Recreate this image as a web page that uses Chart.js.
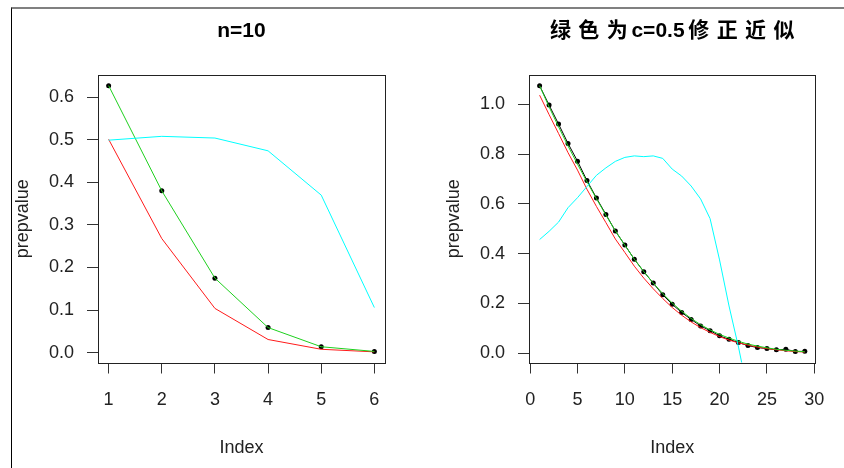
<!DOCTYPE html>
<html>
<head>
<meta charset="utf-8">
<script src="https://cdn.jsdelivr.net/npm/chart.js@4"></script>
<style>
  body { margin: 0; background: #fff; width: 844px; height: 468px; overflow: hidden; position: relative; }
  #frame { position: absolute; left: 11px; top: 7px; width: 833px; height: 461px;
           border-top: 2px solid #808080; border-left: 1px solid #000; box-sizing: border-box; }
  canvas { position: absolute; top: 0; }
  #left { left: 0; }
  #right { left: 422px; }
</style>
</head>
<body>
<div id="frame"></div>
<canvas id="left" width="422" height="468"></canvas>
<canvas id="right" width="422" height="468"></canvas>
<script>
// 왼쪽: n=10
const leftIndex = [1, 2, 3, 4, 5, 6];
const leftBlack = [0.627, 0.380, 0.175, 0.059, 0.014, 0.003];
const leftGreen = [0.627, 0.380, 0.175, 0.059, 0.014, 0.003];
const leftRed   = [0.501, 0.268, 0.104, 0.031, 0.008, 0.002];
const leftCyan  = [0.499, 0.508, 0.504, 0.474, 0.370, 0.106];
const leftXTicks = [1, 2, 3, 4, 5, 6];
const leftYTicks = [0, 0.1, 0.2, 0.3, 0.4, 0.5, 0.6];

// 오른쪽: 修正近似
const rightIndex = [1, 2, 3, 4, 5, 6, 7, 8, 9, 10, 11, 12, 13, 14, 15, 16, 17, 18, 19, 20,
                    21, 22, 23, 24, 25, 26, 27, 28, 29];
const rightBlack = [1.075, 0.997, 0.921, 0.843, 0.772, 0.694, 0.624, 0.558, 0.491, 0.435,
                    0.378, 0.328, 0.282, 0.235, 0.197, 0.164, 0.136, 0.110, 0.091, 0.070,
                    0.056, 0.043, 0.031, 0.023, 0.019, 0.014, 0.016, 0.007, 0.008];
const rightGreen = [1.075, 0.990, 0.910, 0.833, 0.760, 0.689, 0.621, 0.555, 0.492, 0.434,
                    0.378, 0.328, 0.282, 0.240, 0.202, 0.169, 0.140, 0.115, 0.094, 0.076,
                    0.061, 0.048, 0.037, 0.029, 0.022, 0.016, 0.012, 0.009, 0.006];
const rightRed   = [1.037, 0.959, 0.883, 0.806, 0.736, 0.659, 0.590, 0.525, 0.459, 0.405,
                    0.350, 0.302, 0.259, 0.220, 0.184, 0.153, 0.126, 0.103, 0.084, 0.067,
                    0.053, 0.042, 0.033, 0.025, 0.019, 0.014, 0.010, 0.007, 0.005];
const rightCyan  = [0.457, 0.490, 0.527, 0.585, 0.625, 0.670, 0.715, 0.745, 0.771, 0.787,
                    0.793, 0.790, 0.793, 0.783, 0.740, 0.712, 0.672, 0.620, 0.541, 0.375,
                    0.190, 0.025, -0.160];
const rightXTicks = [0, 5, 10, 15, 20, 25, 30];
const rightYTicks = [0, 0.2, 0.4, 0.6, 0.8, 1.0];

const FONT = "'Liberation Sans', Arial, sans-serif";

function pts(xs, ys) {
    return ys.map((y, i) => ({ x: xs[i], y: y }));
}

// 제목: 한자만 간격을 넓힘
const panelTitle = {
    id: 'panelTitle',
    afterDraw(chart, args, opts) {
        const ctx = chart.ctx;
        const a = chart.chartArea;
        ctx.save();
        ctx.font = "bold 21px 'Liberation Sans', 'Noto Sans CJK SC', sans-serif";
        ctx.fillStyle = '#000';
        ctx.textAlign = 'left';
        ctx.textBaseline = 'middle';
        const chars = Array.from(opts.text);
        const gap = c => (/[\u4e00-\u9fff]/.test(c) ? opts.spacing : 0);
        let total = 0;
        chars.forEach(c => { total += ctx.measureText(c).width + gap(c); });
        let x = (a.left + a.right) / 2 - total / 2;
        chars.forEach(c => {
            const g = gap(c);
            ctx.fillText(c, x + g / 2, 31);
            x += ctx.measureText(c).width + g;
        });
        ctx.restore();
    }
};

// 플롯 박스
const plotBox = {
    id: 'plotBox',
    afterDraw(chart) {
        const ctx = chart.ctx;
        const a = chart.chartArea;
        ctx.save();
        ctx.strokeStyle = '#222';
        ctx.lineWidth = 1;
        ctx.strokeRect(Math.round(a.left) + 0.5, Math.round(a.top) + 0.5,
                       Math.round(a.right - a.left), Math.round(a.bottom - a.top));
        ctx.restore();
    }
};

function line(data, color, order, extra) {
    return Object.assign({
        data: data,
        borderColor: color,
        borderWidth: 1,
        pointRadius: 0,
        fill: false,
        tension: 0,
        order: order
    }, extra || {});
}

function makePanel(id, o) {
    const ctx = document.getElementById(id).getContext('2d');
    return new Chart(ctx, {
        type: 'line',
        data: {
            datasets: [
                line(pts(o.xs, o.black), '#000', 4, { showLine: o.blackLine, pointRadius: 2.5, pointBackgroundColor: '#000', pointBorderColor: '#000', pointBorderWidth: 0 }),
                line(pts(o.xs, o.red), '#ff1a1a', 3),
                line(pts(o.xs, o.green), '#1ed01e', 2),
                line(pts(o.xs, o.cyan), '#00ffff', 1)
            ]
        },
        options: {
            responsive: false,
            animation: false,
            events: [],
            layout: { padding: { top: 75, right: o.padRight, left: 0, bottom: 0 } },
            plugins: {
                legend: { display: false },
                tooltip: { enabled: false },
                panelTitle: { text: o.title, spacing: o.spacing }
            },
            scales: {
                x: {
                    type: 'linear',
                    min: o.xMin,
                    max: o.xMax,
                    afterBuildTicks: s => { s.ticks = o.xTicks.map(v => ({ value: v })); },
                    afterFit: s => { s.height = 105.5; },
                    grid: { drawOnChartArea: false, tickLength: 11, color: '#333' },
                    border: { display: false },
                    ticks: { padding: 16, color: '#222', font: { family: FONT, size: 18 }, callback: v => String(v), maxRotation: 0 },
                    title: { display: true, text: 'Index', color: '#222', font: { family: FONT, size: 18 }, padding: { top: 0, bottom: 9 } }
                },
                y: {
                    type: 'linear',
                    min: o.yMin,
                    max: o.yMax,
                    afterBuildTicks: s => { s.ticks = o.yTicks.map(v => ({ value: v })); },
                    afterFit: s => { s.width = o.yWidth; },
                    grid: { drawOnChartArea: false, tickLength: 11, color: '#333' },
                    border: { display: false },
                    ticks: { padding: 13, color: '#222', font: { family: FONT, size: 18 }, callback: v => v.toFixed(1) },
                    title: { display: true, text: 'prepvalue', color: '#222', font: { family: FONT, size: 18 }, padding: { top: o.yTitlePad, bottom: 0 } }
                }
            }
        },
        plugins: [plotBox, panelTitle]
    });
}

makePanel('left', {
    xs: leftIndex, black: leftBlack, green: leftGreen, red: leftRed, cyan: leftCyan,
    xTicks: leftXTicks, yTicks: leftYTicks,
    xMin: 0.8, xMax: 6.2, yMin: -0.023, yMax: 0.652,
    yWidth: 98, padRight: 37, yTitlePad: 12, blackLine: false,
    title: 'n=10', spacing: 0
});

makePanel('right', {
    xs: rightIndex, black: rightBlack, green: rightGreen, red: rightRed, cyan: rightCyan,
    xTicks: rightXTicks, yTicks: rightYTicks,
    xMin: -0.12, xMax: 30.12, yMin: -0.037, yMax: 1.118,
    yWidth: 107, padRight: 28.6, yTitlePad: 21, blackLine: true,
    title: '绿色为c=0.5修正近似', spacing: 7.4
});
</script>
</body>
</html>
